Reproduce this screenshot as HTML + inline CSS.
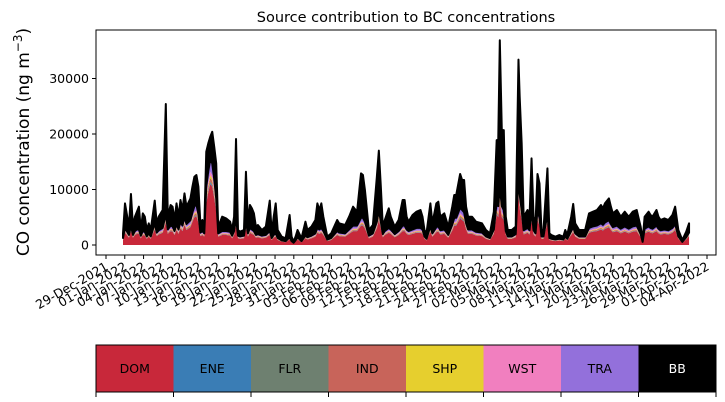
<!DOCTYPE html>
<html><head><meta charset="utf-8"><style>
body{margin:0;background:#fff;}
svg{display:block;font-family:"DejaVu Sans","Liberation Sans",sans-serif;}
</style></head><body>
<svg id="chart" width="725" height="402" viewBox="0 0 725 402" xmlns="http://www.w3.org/2000/svg"></svg>
<script>
const days=[0,.33,.99,1.32,1.65,1.98,2.31,2.64,2.96,3.29,3.62,3.95,4.28,4.61,5.27,5.6,5.93,6.59,7.11,7.44,7.91,8.23,8.56,8.89,9.22,9.55,9.88,10.21,10.54,11.2,11.53,11.86,12.19,12.52,12.85,13.18,13.5,13.83,14.16,14.49,14.82,15.15,15.48,15.81,16.47,17.13,17.79,18.12,18.45,18.77,19.1,19.43,20.09,20.42,20.75,21.08,21.41,21.74,22.07,22.4,23.06,23.72,24.37,24.7,25.03,25.36,25.69,26.35,27.01,27.67,28,28.33,28.66,28.99,29.64,30.3,30.63,31.29,31.95,32.28,32.61,32.94,33.27,33.93,34.58,35.57,35.9,36.89,37.55,38.21,38.87,39.53,39.85,40.18,40.84,41.5,42.16,42.49,42.82,43.15,43.48,44.14,44.47,45.13,45.78,46.44,46.77,47.1,47.43,48.09,48.75,49.41,49.74,50.07,50.4,51.05,51.38,52.04,52.37,52.7,53.36,54.02,54.68,55.01,55.34,55.99,56.32,56.65,56.98,57.31,57.97,58.63,59.62,60.28,60.94,61.59,62.06,62.32,62.58,62.91,63.24,63.57,63.9,64.56,65.22,65.68,65.88,66.21,66.54,67.19,67.52,67.85,68.18,68.51,68.84,69.17,69.5,69.83,70.49,70.82,71.15,71.81,72.46,73.12,73.45,73.78,74.44,74.77,75.1,75.76,76.75,77.4,78.06,78.72,79.38,79.71,80.04,80.7,81.03,81.36,82.02,82.67,83.33,83.99,84.65,85.31,85.97,86.3,86.63,87.29,87.62,87.94,88.6,88.93,89.26,89.92,90.58,91.24,91.7,92.23,92.89,93.54,94.01];
const total=[2100,7500,3300,9200,3300,5100,6000,6900,2700,5700,5100,2700,3900,2700,8000,3900,5100,6300,25400,5100,7200,6900,4500,7500,5100,8100,6300,9300,6900,8400,10500,12300,12600,10500,3900,4500,3300,16800,18300,19500,20400,17700,14700,3300,5100,4800,4200,2700,5100,19100,2700,2400,2700,13200,3900,7200,6600,5700,3300,3600,2700,3300,8000,2100,5100,7500,2700,1500,1200,5400,1500,600,1500,2700,1200,4200,2700,3300,4500,7500,6300,7500,5100,1500,2100,4500,3900,3600,5100,6900,6000,12900,12600,9900,2700,3600,12300,17000,10500,3300,4500,6600,5100,3300,4500,8100,8100,5100,4200,5400,6000,6300,5100,2700,2100,7500,3900,7500,7800,5100,5700,3300,6900,9000,9000,12800,11700,11700,6900,5100,5100,4200,3900,2700,2100,6000,18900,18900,36900,20700,20700,5100,2700,2700,3300,33400,26700,18300,5100,6300,5100,15600,5100,3900,12800,11100,2700,2700,13800,2100,1800,1500,1800,1500,2700,1800,5100,7400,3900,2700,2700,5700,6000,6300,7200,6600,7500,8400,6900,5700,6300,5100,6000,5100,6000,6300,3300,900,5100,6000,5400,5100,6300,5100,4500,4800,4500,5400,6900,2700,900,2400,3900];
const dom=[900,2200,1300,2500,1300,1800,2000,2000,1200,1800,1700,1100,1500,1100,2800,1600,1900,2200,4000,2000,2500,2400,1800,2700,2000,3000,2500,3600,2700,3200,4200,5000,5200,4000,1600,1800,1500,7500,9500,11000,10500,8500,6000,1500,1800,1800,1700,1200,1800,3500,1200,1100,1200,3000,1500,2200,2000,1800,1300,1400,1200,1300,1800,900,1300,1500,900,600,500,1000,500,300,600,1000,500,1200,1000,1200,1500,2200,2000,2200,1800,700,900,1800,1600,1500,2000,2500,2500,3500,3500,3000,1200,1500,3000,4500,3000,1400,1800,2200,2000,1400,1800,2500,2500,2000,1800,2000,2200,2200,2000,1100,800,2400,1500,2300,2400,1900,2000,1300,2600,3500,3500,4800,4500,4200,2800,2000,2000,1700,1600,1100,900,2000,5500,5000,7500,5000,4500,1800,1100,1100,1400,9000,6500,4500,1900,2200,1900,4500,1900,1500,4500,3500,1100,1100,4000,900,800,700,800,700,1100,800,1800,2300,1500,1100,1100,2200,2400,2500,2800,2600,2900,3200,2700,2300,2500,2100,2400,2100,2400,2500,1400,400,2100,2400,2200,2100,2500,2100,1900,2000,1900,2200,2700,1100,400,1000,1600];
const sources=["DOM","ENE","FLR","IND","SHP","WST","TRA","BB"];
const minorShares=[0.02,0.02,0.06,0.04,0.06,0.2]; // ENE..TRA relative to DOM
const colors=["#c8283a","#3a7db5","#6e8070","#c8645a","#e6cf2e","#f17fbf","#9370db","#000000"];
const yTicks=[0,10000,20000,30000];
const tickLabels=["29-Dec-2021","01-Jan-2022","04-Jan-2022","07-Jan-2022","10-Jan-2022","13-Jan-2022","16-Jan-2022","19-Jan-2022","22-Jan-2022","25-Jan-2022","28-Jan-2022","31-Jan-2022","03-Feb-2022","06-Feb-2022","09-Feb-2022","12-Feb-2022","15-Feb-2022","18-Feb-2022","21-Feb-2022","24-Feb-2022","27-Feb-2022","02-Mar-2022","05-Mar-2022","08-Mar-2022","11-Mar-2022","14-Mar-2022","17-Mar-2022","20-Mar-2022","23-Mar-2022","26-Mar-2022","29-Mar-2022","01-Apr-2022","04-Apr-2022"];

const NS="http://www.w3.org/2000/svg";
const svg=document.getElementById('chart');
function mk(t,a,p){const e=document.createElementNS(NS,t);for(const k in a)e.setAttribute(k,a[k]);(p||svg).appendChild(e);return e;}
const L=96,R=716,T=30,B=255;
const xS=d=>123+d*(689-123)/94;
const yS=v=>245-v*(245-189.5)/10000;

const title=mk('text',{x:406,y:22,'text-anchor':'middle','font-size':14.5});title.textContent="Source contribution to BC concentrations";


const yl=mk('text',{x:0,y:0,'text-anchor':'middle','font-size':17,transform:'translate(29,142) rotate(-90)'});
yl.innerHTML='CO concentration (ng m<tspan dy="-7" font-size="12">−3</tspan><tspan dy="7">)</tspan>';



const n=days.length;
let base=new Array(n).fill(0);
for(let s=0;s<8;s++){
  const top=[];
  for(let i=0;i<n;i++){
    let v;
    if(s===0)v=dom[i];
    else if(s<7)v=dom[i]*minorShares[s-1];
    else v=Math.max(0,total[i]-base[i]);
    top.push(base[i]+v);
  }
  let d='M'+xS(days[0])+','+yS(base[0]);
  for(let i=0;i<n;i++)d+='L'+xS(days[i]).toFixed(2)+','+yS(top[i]).toFixed(2);
  for(let i=n-1;i>=0;i--)d+='L'+xS(days[i]).toFixed(2)+','+yS(base[i]).toFixed(2);
  const p=mk('path',{d:d+'Z',fill:colors[s],stroke:s===7?'#000':'none','stroke-width':s===7?2:0,'stroke-linejoin':'round'});
  
  
  base=top;
}

const fr=mk('rect',{x:L,y:T,width:R-L,height:B-T,fill:'none',stroke:'#000','stroke-width':1});


yTicks.forEach(v=>{
  const y=yS(v);
  mk('line',{x1:L-4,x2:L,y1:y,y2:y,stroke:'#000'});
  const t=mk('text',{x:L-7,y:y+4.5,'text-anchor':'end','font-size':12.5});t.textContent=v;
  
  
});
const nt=tickLabels.length;
for(let i=0;i<nt;i++){
  const x=106+i*(707-106)/(nt-1);
  mk('line',{x1:x,x2:x,y1:B,y2:B+4,stroke:'#000'});
  const t=mk('text',{x:0,y:0,'text-anchor':'end','font-size':12.5,transform:`translate(${x+3},${B+14}) rotate(-30)`});
  t.textContent=tickLabels[i];
  
  
}

const cw=(R-L)/8;
sources.forEach((s,i)=>{
  const g=mk('g',{});
  
  
  mk('rect',{x:L+i*cw,y:345,width:cw+0.5,height:47,fill:colors[i]},g);
  const t=mk('text',{x:L+i*cw+cw/2,y:373,'text-anchor':'middle','font-size':12.5,fill:s==='BB'?'#fff':'#000'},g);
  t.textContent=s;
});
mk('rect',{x:L,y:345,width:R-L,height:47,fill:'none',stroke:'#000','stroke-width':1});
for(let i=0;i<=8;i++){const x=L+i*cw;mk('line',{x1:x,x2:x,y1:392,y2:397,stroke:'#000'});}
</script>
</body></html>
